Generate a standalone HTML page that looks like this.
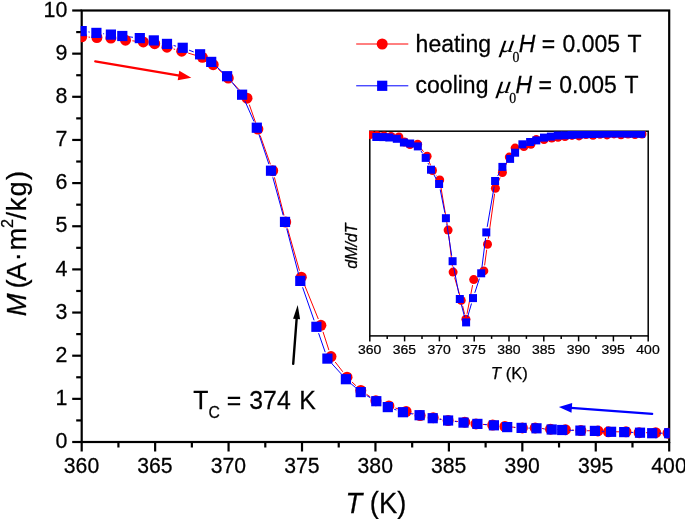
<!DOCTYPE html>
<html><head><meta charset="utf-8"><title>M(T) heating / cooling</title>
<style>
html,body{margin:0;padding:0;background:#fff;}
body{width:685px;height:519px;overflow:hidden;}
svg{display:block;will-change:transform;}
text{font-family:"Liberation Sans",sans-serif;fill:#000;stroke:#000;stroke-width:0.25px;}
.ser{font-family:"Liberation Serif",serif;}
.it{font-style:italic;}
</style></head><body>
<svg width="685" height="519" viewBox="0 0 685 519">
<rect x="0" y="0" width="685" height="519" fill="#fff"/>
<defs>
<clipPath id="cm"><rect x="80.7" y="9.5" width="589" height="433.5"/></clipPath>
<clipPath id="ci"><rect x="369.0" y="131.0" width="280" height="206"/></clipPath>
</defs>

<g stroke="#000" stroke-width="2.2" fill="none" stroke-linecap="butt">
<rect x="81.7" y="10.5" width="587.5" height="431.5"/>
<line x1="72.2" y1="442.00" x2="81.7" y2="442.00"/>
<line x1="76.2" y1="420.43" x2="81.7" y2="420.43"/>
<line x1="72.2" y1="398.85" x2="81.7" y2="398.85"/>
<line x1="76.2" y1="377.28" x2="81.7" y2="377.28"/>
<line x1="72.2" y1="355.70" x2="81.7" y2="355.70"/>
<line x1="76.2" y1="334.12" x2="81.7" y2="334.12"/>
<line x1="72.2" y1="312.55" x2="81.7" y2="312.55"/>
<line x1="76.2" y1="290.98" x2="81.7" y2="290.98"/>
<line x1="72.2" y1="269.40" x2="81.7" y2="269.40"/>
<line x1="76.2" y1="247.82" x2="81.7" y2="247.82"/>
<line x1="72.2" y1="226.25" x2="81.7" y2="226.25"/>
<line x1="76.2" y1="204.68" x2="81.7" y2="204.68"/>
<line x1="72.2" y1="183.10" x2="81.7" y2="183.10"/>
<line x1="76.2" y1="161.53" x2="81.7" y2="161.53"/>
<line x1="72.2" y1="139.95" x2="81.7" y2="139.95"/>
<line x1="76.2" y1="118.37" x2="81.7" y2="118.37"/>
<line x1="72.2" y1="96.80" x2="81.7" y2="96.80"/>
<line x1="76.2" y1="75.23" x2="81.7" y2="75.23"/>
<line x1="72.2" y1="53.65" x2="81.7" y2="53.65"/>
<line x1="76.2" y1="32.08" x2="81.7" y2="32.08"/>
<line x1="72.2" y1="10.50" x2="81.7" y2="10.50"/>
<line x1="81.70" y1="442.0" x2="81.70" y2="451.5"/>
<line x1="118.42" y1="442.0" x2="118.42" y2="447.5"/>
<line x1="155.14" y1="442.0" x2="155.14" y2="451.5"/>
<line x1="191.86" y1="442.0" x2="191.86" y2="447.5"/>
<line x1="228.57" y1="442.0" x2="228.57" y2="451.5"/>
<line x1="265.29" y1="442.0" x2="265.29" y2="447.5"/>
<line x1="302.01" y1="442.0" x2="302.01" y2="451.5"/>
<line x1="338.73" y1="442.0" x2="338.73" y2="447.5"/>
<line x1="375.45" y1="442.0" x2="375.45" y2="451.5"/>
<line x1="412.17" y1="442.0" x2="412.17" y2="447.5"/>
<line x1="448.89" y1="442.0" x2="448.89" y2="451.5"/>
<line x1="485.61" y1="442.0" x2="485.61" y2="447.5"/>
<line x1="522.33" y1="442.0" x2="522.33" y2="451.5"/>
<line x1="559.04" y1="442.0" x2="559.04" y2="447.5"/>
<line x1="595.76" y1="442.0" x2="595.76" y2="451.5"/>
<line x1="632.48" y1="442.0" x2="632.48" y2="447.5"/>
<line x1="669.20" y1="442.0" x2="669.20" y2="451.5"/>
</g>
<text transform="translate(67.40,448.10) scale(1.000,1.050)" font-size="21.40" text-anchor="end" >0</text>
<text transform="translate(67.40,404.95) scale(1.000,1.050)" font-size="21.40" text-anchor="end" >1</text>
<text transform="translate(67.40,361.80) scale(1.000,1.050)" font-size="21.40" text-anchor="end" >2</text>
<text transform="translate(67.40,318.65) scale(1.000,1.050)" font-size="21.40" text-anchor="end" >3</text>
<text transform="translate(67.40,275.50) scale(1.000,1.050)" font-size="21.40" text-anchor="end" >4</text>
<text transform="translate(67.40,232.35) scale(1.000,1.050)" font-size="21.40" text-anchor="end" >5</text>
<text transform="translate(67.40,189.20) scale(1.000,1.050)" font-size="21.40" text-anchor="end" >6</text>
<text transform="translate(67.40,146.05) scale(1.000,1.050)" font-size="21.40" text-anchor="end" >7</text>
<text transform="translate(67.40,102.90) scale(1.000,1.050)" font-size="21.40" text-anchor="end" >8</text>
<text transform="translate(67.40,59.75) scale(1.000,1.050)" font-size="21.40" text-anchor="end" >9</text>
<text transform="translate(67.40,16.60) scale(1.000,1.050)" font-size="21.40" text-anchor="end" >10</text>
<text transform="translate(81.50,473.20) scale(1.000,1.050)" font-size="21.20" text-anchor="middle" >360</text>
<text transform="translate(154.94,473.20) scale(1.000,1.050)" font-size="21.20" text-anchor="middle" >365</text>
<text transform="translate(228.38,473.20) scale(1.000,1.050)" font-size="21.20" text-anchor="middle" >370</text>
<text transform="translate(301.81,473.20) scale(1.000,1.050)" font-size="21.20" text-anchor="middle" >375</text>
<text transform="translate(375.25,473.20) scale(1.000,1.050)" font-size="21.20" text-anchor="middle" >380</text>
<text transform="translate(448.69,473.20) scale(1.000,1.050)" font-size="21.20" text-anchor="middle" >385</text>
<text transform="translate(522.12,473.20) scale(1.000,1.050)" font-size="21.20" text-anchor="middle" >390</text>
<text transform="translate(595.56,473.20) scale(1.000,1.050)" font-size="21.20" text-anchor="middle" >395</text>
<text transform="translate(669.00,473.20) scale(1.000,1.050)" font-size="21.20" text-anchor="middle" >400</text>
<text transform="translate(345.60,513.10) scale(1.000,1.080)" font-size="27.30" text-anchor="start" ><tspan class="it">T</tspan> (K)</text>
<text transform="translate(26.30,316.20) rotate(-90) scale(1.050,1.030)" font-size="26.00" text-anchor="start" ><tspan class="it">M</tspan> <tspan dx="-2.5">(</tspan><tspan dx="-1.3">A</tspan><tspan dx="1.3">&#183;</tspan><tspan dx="1.5">m</tspan><tspan font-size="15.5" dx="-0.2" dy="-13">2</tspan><tspan dy="13" dx="-0.5">/</tspan><tspan dx="0.6">k</tspan><tspan dx="1.1">g</tspan><tspan dx="1.3">)</tspan></text>
<g stroke="#000" stroke-width="1.5" fill="none">
<rect x="369.8" y="131.2" width="278.4" height="204.7"/>
<line x1="369.80" y1="335.9" x2="369.80" y2="341.4"/>
<line x1="387.20" y1="335.9" x2="387.20" y2="338.9"/>
<line x1="404.60" y1="335.9" x2="404.60" y2="341.4"/>
<line x1="422.00" y1="335.9" x2="422.00" y2="338.9"/>
<line x1="439.40" y1="335.9" x2="439.40" y2="341.4"/>
<line x1="456.80" y1="335.9" x2="456.80" y2="338.9"/>
<line x1="474.20" y1="335.9" x2="474.20" y2="341.4"/>
<line x1="491.60" y1="335.9" x2="491.60" y2="338.9"/>
<line x1="509.00" y1="335.9" x2="509.00" y2="341.4"/>
<line x1="526.40" y1="335.9" x2="526.40" y2="338.9"/>
<line x1="543.80" y1="335.9" x2="543.80" y2="341.4"/>
<line x1="561.20" y1="335.9" x2="561.20" y2="338.9"/>
<line x1="578.60" y1="335.9" x2="578.60" y2="341.4"/>
<line x1="596.00" y1="335.9" x2="596.00" y2="338.9"/>
<line x1="613.40" y1="335.9" x2="613.40" y2="341.4"/>
<line x1="630.80" y1="335.9" x2="630.80" y2="338.9"/>
<line x1="648.20" y1="335.9" x2="648.20" y2="341.4"/>
</g>
<text transform="translate(369.60,354.10) scale(1.000,0.940)" font-size="14.00" text-anchor="middle" >360</text>
<text transform="translate(404.40,354.10) scale(1.000,0.940)" font-size="14.00" text-anchor="middle" >365</text>
<text transform="translate(439.20,354.10) scale(1.000,0.940)" font-size="14.00" text-anchor="middle" >370</text>
<text transform="translate(474.00,354.10) scale(1.000,0.940)" font-size="14.00" text-anchor="middle" >375</text>
<text transform="translate(508.80,354.10) scale(1.000,0.940)" font-size="14.00" text-anchor="middle" >380</text>
<text transform="translate(543.60,354.10) scale(1.000,0.940)" font-size="14.00" text-anchor="middle" >385</text>
<text transform="translate(578.40,354.10) scale(1.000,0.940)" font-size="14.00" text-anchor="middle" >390</text>
<text transform="translate(613.20,354.10) scale(1.000,0.940)" font-size="14.00" text-anchor="middle" >395</text>
<text transform="translate(648.00,354.10) scale(1.000,0.940)" font-size="14.00" text-anchor="middle" >400</text>
<text transform="translate(490.80,378.60) scale(1.000,1.000)" font-size="16.70" text-anchor="start" ><tspan class="it">T</tspan> (K)</text>
<text transform="translate(357.00,268.80) rotate(-90) scale(1.000,1.050)" font-size="16.00" text-anchor="start" class="it">dM/dT</text>
<g clip-path="url(#ci)">
<path d="M421.1 148.6L423.6 151.8M429.1 161.4L430.5 165.3M435.9 174.9L436.3 175.5M440.6 185.4L447.2 224.6M448.8 235.7L452.4 266.5M454.6 277.5L459.7 295.0M462.6 305.8L464.5 313.9M467.0 313.8L472.6 285.1M477.9 275.9L479.6 274.6M484.6 265.4L486.7 249.7M488.3 238.7L494.6 193.7M497.7 183.1L500.1 177.6M504.7 167.4L507.0 162.2" fill="none" stroke="#ff0000" stroke-width="1.00"/>
<g fill="#ff0000"><circle cx="370.3" cy="134.5" r="4.50"/><circle cx="377.0" cy="135.5" r="4.50"/><circle cx="384.0" cy="136.0" r="4.50"/><circle cx="391.0" cy="136.5" r="4.50"/><circle cx="398.9" cy="136.9" r="4.50"/><circle cx="404.5" cy="142.0" r="4.50"/><circle cx="410.0" cy="144.5" r="4.50"/><circle cx="417.6" cy="144.2" r="4.50"/><circle cx="427.1" cy="156.2" r="4.50"/><circle cx="432.5" cy="170.5" r="4.50"/><circle cx="439.7" cy="179.9" r="4.50"/><circle cx="448.1" cy="230.1" r="4.50"/><circle cx="453.1" cy="272.1" r="4.50"/><circle cx="461.2" cy="300.4" r="4.50"/><circle cx="465.9" cy="319.3" r="4.50"/><circle cx="473.7" cy="279.6" r="4.50"/><circle cx="483.8" cy="270.9" r="4.50"/><circle cx="487.5" cy="244.2" r="4.50"/><circle cx="495.4" cy="188.2" r="4.50"/><circle cx="502.4" cy="172.5" r="4.50"/><circle cx="509.3" cy="157.1" r="4.50"/><circle cx="515.1" cy="148.1" r="4.50"/><circle cx="523.9" cy="146.6" r="4.50"/><circle cx="530.9" cy="144.3" r="4.50"/><circle cx="536.3" cy="139.6" r="4.50"/><circle cx="544.0" cy="139.6" r="4.50"/><circle cx="551.7" cy="138.1" r="4.50"/><circle cx="558.0" cy="137.2" r="4.50"/><circle cx="565.0" cy="136.6" r="4.50"/><circle cx="572.0" cy="135.4" r="4.50"/><circle cx="579.0" cy="135.9" r="4.50"/><circle cx="586.0" cy="134.6" r="4.50"/><circle cx="593.0" cy="135.2" r="4.50"/><circle cx="600.0" cy="134.2" r="4.50"/><circle cx="607.0" cy="134.9" r="4.50"/><circle cx="614.0" cy="133.9" r="4.50"/><circle cx="621.0" cy="134.7" r="4.50"/><circle cx="628.0" cy="134.0" r="4.50"/><circle cx="635.0" cy="134.6" r="4.50"/><circle cx="642.0" cy="134.0" r="4.50"/></g>
<path d="M421.0 151.0L422.5 153.3M428.0 163.0L428.7 164.6M433.8 174.6L436.3 179.1M440.2 189.5L444.8 212.7M446.8 223.7L451.7 255.7M453.6 266.7L458.8 293.5M461.3 304.4L464.6 317.0M467.6 317.0L471.5 303.5M474.8 292.8L479.4 278.6M481.9 267.7L485.6 238.0M487.2 226.9L494.2 186.5M497.7 176.0L499.8 171.9" fill="none" stroke="#0000ff" stroke-width="1.00"/>
<g fill="#0000ff"><rect x="372.3" y="133.0" width="8.0" height="8.0"/><rect x="379.3" y="133.1" width="8.0" height="8.0"/><rect x="385.3" y="133.5" width="8.0" height="8.0"/><rect x="392.8" y="134.8" width="8.0" height="8.0"/><rect x="399.9" y="138.5" width="8.0" height="8.0"/><rect x="406.2" y="139.5" width="8.0" height="8.0"/><rect x="413.8" y="142.4" width="8.0" height="8.0"/><rect x="421.7" y="153.9" width="8.0" height="8.0"/><rect x="427.0" y="165.7" width="8.0" height="8.0"/><rect x="435.1" y="180.0" width="8.0" height="8.0"/><rect x="441.9" y="214.2" width="8.0" height="8.0"/><rect x="448.6" y="257.2" width="8.0" height="8.0"/><rect x="455.8" y="295.0" width="8.0" height="8.0"/><rect x="462.1" y="318.4" width="8.0" height="8.0"/><rect x="469.0" y="294.1" width="8.0" height="8.0"/><rect x="477.2" y="269.3" width="8.0" height="8.0"/><rect x="482.3" y="228.4" width="8.0" height="8.0"/><rect x="491.1" y="177.0" width="8.0" height="8.0"/><rect x="498.4" y="162.9" width="8.0" height="8.0"/><rect x="506.1" y="154.9" width="8.0" height="8.0"/><rect x="511.1" y="148.7" width="8.0" height="8.0"/><rect x="518.4" y="140.3" width="8.0" height="8.0"/><rect x="526.1" y="138.0" width="8.0" height="8.0"/><rect x="532.3" y="136.4" width="8.0" height="8.0"/><rect x="540.0" y="133.6" width="8.0" height="8.0"/><rect x="546.9" y="132.6" width="8.0" height="8.0"/><rect x="553.8" y="131.5" width="8.0" height="8.0"/><rect x="560.6" y="131.3" width="8.0" height="8.0"/><rect x="567.6" y="130.9" width="8.0" height="8.0"/><rect x="574.5" y="130.5" width="8.0" height="8.0"/><rect x="581.5" y="130.2" width="8.0" height="8.0"/><rect x="588.5" y="130.0" width="8.0" height="8.0"/><rect x="595.4" y="129.8" width="8.0" height="8.0"/><rect x="602.4" y="129.6" width="8.0" height="8.0"/><rect x="609.4" y="129.5" width="8.0" height="8.0"/><rect x="616.3" y="129.5" width="8.0" height="8.0"/><rect x="623.3" y="129.6" width="8.0" height="8.0"/><rect x="630.2" y="129.7" width="8.0" height="8.0"/><rect x="637.2" y="129.8" width="8.0" height="8.0"/></g>
</g>
<g clip-path="url(#cm)">
<path d="M88.5 37.1L90.1 37.2M117.6 39.1L118.8 39.2M132.3 40.8L136.5 41.3M173.6 49.0L175.1 49.4M188.2 53.1L195.9 55.4M218.3 69.2L223.2 73.6M232.9 83.1L242.4 93.2M249.3 104.6L255.6 122.7M260.2 135.5L270.4 164.3M274.4 177.3L284.0 215.4M287.5 228.5L299.5 270.7M303.9 283.5L318.3 319.0M323.0 331.8L328.9 350.1M335.2 362.0L342.8 371.8M351.9 381.9L355.9 385.7M366.4 394.2L370.3 396.9M395.4 408.0L399.6 409.4M412.6 413.4L413.6 413.7M439.9 419.0L441.4 419.2M454.9 421.2L458.0 421.5M482.8 424.4L485.9 424.6M511.7 427.0L515.6 427.4M542.0 428.5L543.7 428.6M557.3 429.4L558.6 429.5M572.2 430.1L574.1 430.2M587.7 430.7L591.1 430.8M615.2 431.8L619.2 431.8M645.9 432.7L648.9 432.7" fill="none" stroke="#ff0000" stroke-width="1.00"/>
<g fill="#ff0000"><circle cx="81.7" cy="36.8" r="5.50"/><circle cx="96.9" cy="37.5" r="5.50"/><circle cx="110.9" cy="38.1" r="5.50"/><circle cx="125.5" cy="40.2" r="5.50"/><circle cx="143.3" cy="41.9" r="5.50"/><circle cx="154.7" cy="43.7" r="5.50"/><circle cx="167.0" cy="47.2" r="5.50"/><circle cx="181.7" cy="51.2" r="5.50"/><circle cx="202.4" cy="57.3" r="5.50"/><circle cx="213.2" cy="64.7" r="5.50"/><circle cx="228.3" cy="78.1" r="5.50"/><circle cx="247.0" cy="98.2" r="5.50"/><circle cx="257.9" cy="129.1" r="5.50"/><circle cx="272.7" cy="170.7" r="5.50"/><circle cx="285.7" cy="222.0" r="5.50"/><circle cx="301.3" cy="277.2" r="5.50"/><circle cx="320.9" cy="325.3" r="5.50"/><circle cx="331.0" cy="356.6" r="5.50"/><circle cx="347.0" cy="377.2" r="5.50"/><circle cx="360.8" cy="390.4" r="5.50"/><circle cx="375.9" cy="400.7" r="5.50"/><circle cx="388.9" cy="405.9" r="5.50"/><circle cx="406.1" cy="411.5" r="5.50"/><circle cx="420.1" cy="415.6" r="5.50"/><circle cx="433.2" cy="417.7" r="5.50"/><circle cx="448.1" cy="420.5" r="5.50"/><circle cx="464.8" cy="422.2" r="5.50"/><circle cx="476.0" cy="423.9" r="5.50"/><circle cx="492.7" cy="425.1" r="5.50"/><circle cx="504.9" cy="426.5" r="5.50"/><circle cx="522.4" cy="427.9" r="5.50"/><circle cx="535.2" cy="427.9" r="5.50"/><circle cx="550.5" cy="429.2" r="5.50"/><circle cx="565.4" cy="429.7" r="5.50"/><circle cx="580.9" cy="430.6" r="5.50"/><circle cx="597.9" cy="430.9" r="5.50"/><circle cx="608.4" cy="431.8" r="5.50"/><circle cx="626.0" cy="431.8" r="5.50"/><circle cx="639.1" cy="432.7" r="5.50"/><circle cx="655.7" cy="432.7" r="5.50"/><circle cx="668.0" cy="433.2" r="5.50"/></g>
<path d="M88.4 31.9L89.7 32.1M103.2 33.7L104.1 33.8M129.1 36.8L133.0 37.3M146.5 39.2L147.1 39.3M173.6 45.5L176.1 46.2M189.1 50.2L193.7 51.9M216.3 66.4L222.0 71.7M231.4 81.5L237.8 89.4M244.9 100.9L254.0 121.5M258.9 134.2L268.9 164.2M272.8 177.3L283.2 215.3M286.7 228.5L298.6 274.3M302.6 287.3L314.1 320.4M318.6 333.2L325.2 352.2M331.9 363.7L341.4 374.1M351.0 383.7L355.6 387.6M366.6 395.5L370.4 397.8M394.2 409.3L396.5 410.0M409.6 413.4L412.9 414.0M439.4 419.2L441.4 419.5M454.8 421.4L456.8 421.7M484.2 424.5L487.1 424.7M514.0 427.5L514.8 427.5M528.4 428.1L529.7 428.1M543.3 428.8L544.9 429.0M569.0 430.2L573.6 430.4M587.2 430.7L588.1 430.8M601.7 431.3L604.3 431.4M631.0 432.4L633.2 432.4M659.0 433.2L662.4 433.2" fill="none" stroke="#0000ff" stroke-width="1.00"/>
<g fill="#0000ff"><rect x="76.6" y="26.0" width="10.2" height="10.2"/><rect x="91.3" y="27.8" width="10.2" height="10.2"/><rect x="105.8" y="29.5" width="10.2" height="10.2"/><rect x="117.2" y="30.9" width="10.2" height="10.2"/><rect x="134.7" y="33.0" width="10.2" height="10.2"/><rect x="148.7" y="35.3" width="10.2" height="10.2"/><rect x="161.9" y="38.8" width="10.2" height="10.2"/><rect x="177.6" y="42.7" width="10.2" height="10.2"/><rect x="195.0" y="49.2" width="10.2" height="10.2"/><rect x="206.1" y="56.8" width="10.2" height="10.2"/><rect x="222.0" y="71.1" width="10.2" height="10.2"/><rect x="237.0" y="89.6" width="10.2" height="10.2"/><rect x="251.7" y="122.6" width="10.2" height="10.2"/><rect x="265.9" y="165.6" width="10.2" height="10.2"/><rect x="279.9" y="216.8" width="10.2" height="10.2"/><rect x="295.2" y="275.8" width="10.2" height="10.2"/><rect x="311.3" y="321.7" width="10.2" height="10.2"/><rect x="322.3" y="353.5" width="10.2" height="10.2"/><rect x="340.8" y="374.1" width="10.2" height="10.2"/><rect x="355.6" y="387.0" width="10.2" height="10.2"/><rect x="371.2" y="396.1" width="10.2" height="10.2"/><rect x="382.7" y="402.0" width="10.2" height="10.2"/><rect x="397.8" y="407.1" width="10.2" height="10.2"/><rect x="414.5" y="410.1" width="10.2" height="10.2"/><rect x="427.6" y="413.1" width="10.2" height="10.2"/><rect x="443.0" y="415.4" width="10.2" height="10.2"/><rect x="458.4" y="417.5" width="10.2" height="10.2"/><rect x="472.3" y="418.8" width="10.2" height="10.2"/><rect x="488.8" y="420.2" width="10.2" height="10.2"/><rect x="502.1" y="422.0" width="10.2" height="10.2"/><rect x="516.5" y="422.8" width="10.2" height="10.2"/><rect x="531.4" y="423.2" width="10.2" height="10.2"/><rect x="546.6" y="424.4" width="10.2" height="10.2"/><rect x="557.1" y="424.9" width="10.2" height="10.2"/><rect x="575.3" y="425.5" width="10.2" height="10.2"/><rect x="589.8" y="425.8" width="10.2" height="10.2"/><rect x="606.0" y="426.7" width="10.2" height="10.2"/><rect x="619.1" y="427.0" width="10.2" height="10.2"/><rect x="634.9" y="427.6" width="10.2" height="10.2"/><rect x="647.1" y="428.1" width="10.2" height="10.2"/><rect x="664.1" y="428.1" width="10.2" height="10.2"/></g>
</g>
<line x1="95.2" y1="61.4" x2="179.5" y2="75.7" stroke="#ff0000" stroke-width="2.2" stroke-linecap="round"/><polygon points="191.3,77.7 177.7,80.3 179.3,70.8" fill="#ff0000"/>
<line x1="652.2" y1="413.9" x2="570.9" y2="407.8" stroke="#0000ff" stroke-width="2.2" stroke-linecap="round"/><polygon points="558.9,406.9 572.2,403.1 571.5,412.7" fill="#0000ff"/>
<line x1="293.2" y1="363.9" x2="296.7" y2="318.0" stroke="#000000" stroke-width="2.4" stroke-linecap="round"/><polygon points="297.7,305.0 300.1,319.2 293.1,318.7" fill="#000000"/>
<text transform="translate(193.30,409.00) scale(1.000,1.070)" font-size="24.80" text-anchor="start" >T<tspan font-size="15.8" dy="8.2">C</tspan><tspan dy="-8.2"> = </tspan><tspan dx="1.2">374</tspan><tspan dx="1.6"> K</tspan></text>
<line x1="356.2" y1="44" x2="408.3" y2="44" stroke="#ff0000" stroke-width="1.0"/>
<circle cx="382.2" cy="44" r="5.5" fill="#ff0000"/>
<line x1="356.2" y1="85.8" x2="408.3" y2="85.8" stroke="#0000ff" stroke-width="1.0"/>
<rect x="377.1" y="80.7" width="10.2" height="10.2" fill="#0000ff"/>
<text font-size="23" transform="translate(0,52.3) scale(1,1.04)"><tspan x="415.6">heating</tspan><tspan x="512.4" class="ser" font-size="13.8" dy="9.5">0</tspan><tspan x="518.8" dy="-9.5" class="it">H</tspan><tspan> = </tspan><tspan dx="0.9">0.005</tspan><tspan dx="1.6"> T</tspan></text><text class="ser it" font-size="24.5" style="stroke:none" transform="translate(499.2,52.3) skewX(-8) scale(1.16,1.0)">&#956;</text>
<text font-size="23" transform="translate(0,93.1) scale(1,1.04)"><tspan x="415.6">cooling</tspan><tspan x="509.2" class="ser" font-size="13.8" dy="9.5">0</tspan><tspan x="515.6" dy="-9.5" class="it">H</tspan><tspan> = </tspan><tspan dx="0.9">0.005</tspan><tspan dx="1.6"> T</tspan></text><text class="ser it" font-size="24.5" style="stroke:none" transform="translate(496.0,93.1) skewX(-8) scale(1.16,1.0)">&#956;</text>
</svg></body></html>
